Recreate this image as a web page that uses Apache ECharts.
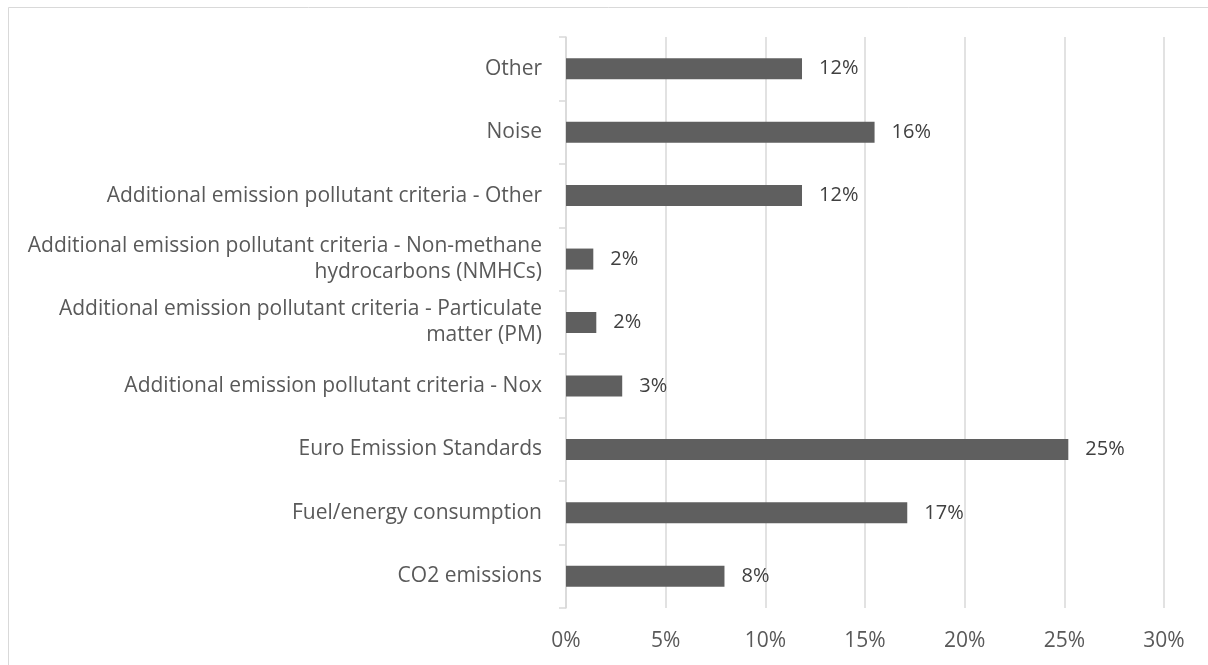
<!DOCTYPE html>
<html>
<head>
<meta charset="utf-8">
<script src="https://cdn.jsdelivr.net/npm/echarts@6/dist/echarts.min.js"></script>
<style>
html,body{margin:0;padding:0;background:#fff;}
#chart{width:1208px;height:665px;}
</style>
</head>
<body>
<div id="chart"></div>
<script>
// Categories listed bottom-to-top (ECharts category y-axis starts at the bottom)
const categories = [
  'CO2 emissions',
  'Fuel/energy consumption',
  'Euro Emission Standards',
  'Additional emission pollutant criteria - Nox',
  'Additional emission pollutant criteria - Particulate\nmatter (PM)',
  'Additional emission pollutant criteria - Non-methane\nhydrocarbons (NMHCs)',
  'Additional emission pollutant criteria - Other',
  'Noise',
  'Other'
];
// Shares as fractions
const values = [0.0795, 0.1712, 0.252, 0.0282, 0.0152, 0.0137, 0.1184, 0.1548, 0.1184];
// Data labels as shown in the picture
const valueLabels = ['8%', '17%', '25%', '3%', '2%', '2%', '12%', '16%', '12%'];
const xTicks = [0, 0.05, 0.10, 0.15, 0.20, 0.25, 0.30];

const FONT = 'Open Sans';
const chart = echarts.init(document.getElementById('chart'), null, {renderer: 'canvas'});
chart.setOption({
  animation: false,
  backgroundColor: '#ffffff',
  graphic: [{
    type: 'rect',
    shape: {x: 8.5, y: 7.5, width: 1220, height: 680},
    style: {fill: 'none', stroke: '#d9d9d9', lineWidth: 1},
    silent: true
  }],
  grid: {left: 566, right: 44, top: 37, bottom: 57, containLabel: false},
  xAxis: {
    type: 'value',
    min: xTicks[0],
    max: xTicks[xTicks.length - 1],
    interval: 0.05,
    axisLine: {show: false},
    axisTick: {show: false},
    splitLine: {show: true, lineStyle: {color: '#d9d9d9', width: 1.5}},
    axisLabel: {
      color: '#595959',
      fontFamily: FONT,
      fontSize: 21,
      margin: 23,
      formatter: v => Math.round(v * 100) + '%'
    }
  },
  yAxis: {
    type: 'category',
    data: categories,
    axisLine: {show: true, lineStyle: {color: '#d9d9d9', width: 1.5}},
    axisTick: {show: true, length: 7, lineStyle: {color: '#d9d9d9', width: 1.5}},
    axisLabel: {
      color: '#595959',
      fontFamily: FONT,
      fontSize: 21,
      margin: 24,
      lineHeight: 26,
      align: 'right'
    }
  },
  series: [{
    type: 'bar',
    data: values,
    barWidth: 21,
    itemStyle: {color: '#5f5f5f'},
    label: {
      show: true,
      position: 'right',
      distance: 17,
      color: '#404040',
      fontFamily: FONT,
      fontSize: 20,
      formatter: p => valueLabels[p.dataIndex]
    }
  }]
});
</script>
</body>
</html>
